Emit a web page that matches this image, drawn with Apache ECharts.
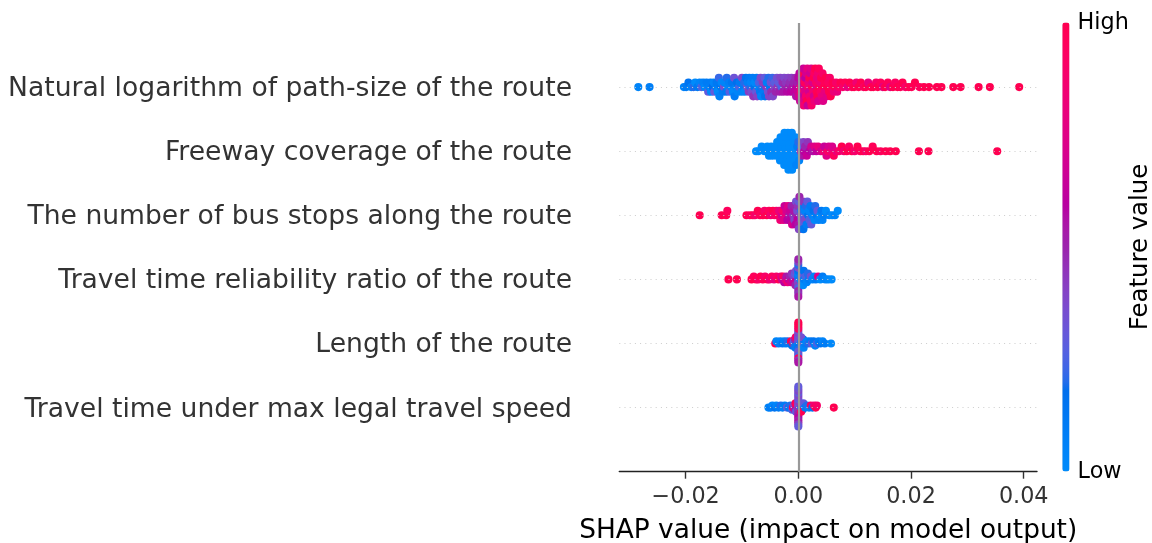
<!DOCTYPE html>
<html>
<head>
<meta charset="utf-8">
<script src="https://cdn.jsdelivr.net/npm/echarts@6/dist/echarts.min.js"></script>
<style>
  html, body { margin: 0; padding: 0; background: #ffffff; }
  #chart { width: 1152px; height: 543px; }
</style>
</head>
<body>
<div id="chart"></div>
<script>
// Features, listed from the bottom row to the top row
const FEATURES = [
  'Travel time under max legal travel speed',
  'Length of the route',
  'Travel time reliability ratio of the route',
  'The number of bus stops along the route',
  'Freeway coverage of the route',
  'Natural logarithm of path-size of the route'
];
const X_TICKS = [-0.02, 0, 0.02, 0.04];
const X_TITLE = 'SHAP value (impact on model output)';
const COLOR_TITLE = 'Feature value';
const COLOR_ENDS = ['High', 'Low'];

// Each point: [SHAP value in thousandths, normalized feature value 0..1]
const SHAP_UNIT = 0.001;

const pathSize = [
  [-28.4,.05],[-26.4,.08],
  [-20.3,.05],[-19.9,.1],[-19.5,.15],[-19.0,.05],[-18.6,.2],[-18.3,0],[-17.9,.12],[-17.5,.05],
  [-17.2,.25],[-16.9,.07],[-16.6,.03],[-16.3,.1],[-16.0,.3],[-15.8,.08],
  [-15.6,.1],[-15.5,.02],[-15.2,.18],[-15.0,.05],[-14.9,.3],[-14.6,.08],[-14.5,.12],[-14.3,0],[-14.1,.22],[-14.0,.06],
  [-13.7,.15],[-13.6,.03],[-13.4,.1],[-13.2,.35],[-13.1,.05],[-12.8,.12],[-12.7,.2],[-12.5,.04],[-12.3,.09],[-12.2,.28],
  [-11.9,.06],[-11.8,.14],[-11.6,.02],[-11.4,.33],[-11.3,.1],[-11.0,.07],[-10.9,.18],[-10.7,.04],[-10.5,.25],[-10.4,.12],
  [-10.1,.05],[-10.0,.38],[-9.8,.1],[-9.6,.2],[-9.5,.03],[-9.3,.15],[-9.1,.3],[-9.0,.08],[-8.8,.42],[-8.7,.12],
  [-8.5,.2],[-8.4,.05],[-8.3,.35],[-8.1,.1],[-8.0,.45],[-7.8,.15],[-7.7,.02],[-7.5,.3],[-7.4,.1],[-7.3,.4],
  [-7.1,.06],[-7.0,.25],[-6.8,.12],[-6.7,.38],[-6.6,.05],[-6.4,.2],[-6.3,.42],[-6.1,.1],[-6.0,.3],[-5.9,.15],
  [-5.7,.45],[-5.6,.08],[-5.4,.35],[-5.3,.2],[-5.2,.4],[-5.0,.12],[-4.9,.32],[-4.8,.48],[-4.6,.22],[-4.5,.38],
  [-4.3,.4],[-4.2,.28],[-4.0,.5],[-3.8,.35],[-3.7,.45],[-3.5,.3],[-3.3,.52],[-3.2,.4],[-3.0,.25],[-2.8,.48],
  [-2.7,.55],[-2.5,.38],[-2.3,.5],[-2.2,.44],[-2.0,.58],[-1.8,.4],[-1.7,.52],[-1.5,.47],[-1.3,.6],[-1.2,.42],
  [-1.0,.55],[-0.8,.5],[-0.7,.62],[-0.5,.48],
  [-0.4,.56],[-0.3,.62],[-0.2,.52],[-0.1,.66],[0.0,.58],[0.1,.7],[0.2,.6],
  [0.3,.65],[0.35,.8],[0.45,.6],[0.5,.9],[0.6,.7],[0.65,.62],[0.75,1],[0.8,.72],[0.9,.66],[0.95,.85],
  [1.05,.68],[1.1,.95],[1.2,.74],[1.25,.6],[1.35,.88],[1.4,.7],[1.5,1],[1.6,.78],[1.65,.64],[1.75,.92],
  [1.8,.8],[1.9,.7],[1.95,1],[2.05,.86],[2.1,.68],[2.2,.95],[2.3,.76],[2.35,.9],[2.45,1],[2.5,.72],
  [2.6,.84],[2.7,1],[2.75,.7],[2.85,.94],[2.9,.82],[3.0,1],[3.1,.75],[3.15,.9],[3.25,.98],[3.3,.8],
  [3.4,1],[3.5,.86],[3.55,.72],[3.65,.95],[3.75,1],[3.85,.84],[3.95,.92],
  [4.05,1],[4.15,.8],[4.3,.9],[4.4,.74],[4.55,1],[4.7,.97],[4.75,.8],[4.9,1],
  [5.05,.76],[5.15,1],[5.3,.94],[5.45,1],[5.6,.9],[5.75,1],[5.9,.96],
  [6.1,1],[6.3,.82],[6.5,1],[6.7,.9],[6.9,.8],[7.2,.92],
  [7.5,1],[7.9,.9],[8.3,.98],[8.7,.8],[9.1,1],[9.5,.94],[9.9,1],[10.3,.85],[10.7,1],
  [11.1,1],[11.6,.92],[12.0,1],[12.4,.8],[12.9,.98],[13.3,1],[13.8,.9],[14.1,1],[14.6,.95],[15.0,.78],
  [15.4,1],[15.9,.96],[16.3,.75],[16.8,1],[17.2,.93],[17.6,1],[18.1,.97],[18.5,1],[19.0,.9],[19.6,1],
  [20.1,.98],[20.7,1],[21.5,.95],[22.3,1],[23.2,1],
  [24.6,1],[25.4,1],[27.5,1],[28.8,1],[32.0,1],[34.0,1],[39.2,1]
];

const freeway = [
  [-7.5,0],[-7.1,0],[-6.5,0],[-6.0,0],[-5.7,0],
  [-5.5,0],[-5.2,0],[-5.0,0],[-4.8,0],[-4.6,0],[-4.4,0],[-4.1,0],[-3.9,0],
  [-3.75,0],[-3.65,0],[-3.55,0],[-3.45,0],[-3.35,0],[-3.25,0],[-3.15,0],[-3.05,0],[-2.95,0],[-2.85,0],[-2.75,0],
  [-2.65,0],[-2.6,0],[-2.5,0],[-2.45,0],[-2.35,0],[-2.3,0],[-2.2,0],[-2.15,0],[-2.05,0],[-2.0,0],
  [-1.9,0],[-1.85,0],[-1.75,0],[-1.7,0],[-1.6,0],[-1.55,0],[-1.45,0],[-1.4,0],[-1.3,0],[-1.25,0],
  [-1.15,0],[-1.1,0],[-1.0,0],[-0.9,0],[-0.8,0],[-0.7,0],
  [-0.6,0],[-0.5,0],[-0.4,.05],[-0.3,0],[-0.2,.1],[-0.1,0],[0.0,.2],[0.15,.05],
  [0.4,.45],[0.55,.3],[0.7,.55],[0.9,.4],[1.05,.6],[1.2,.5],[1.5,.65],[1.7,.45],[2.0,.6],[2.3,.7],
  [2.6,.55],[2.9,.75],[3.2,.62],[3.5,.8],
  [4.0,.7],[4.5,.85],[4.6,.65],[5.0,.75],[5.2,.9],[5.4,.7],[5.9,.85],[6.0,.72],[6.3,.95],[6.8,.8],
  [7.2,.9],[7.7,1],[8.1,.85],[8.6,1],[9.0,.92],[9.5,1],[10.0,.88],[10.5,1],[11.0,.95],[11.5,1],
  [12.0,.9],[12.6,1],[13.2,.97],[13.9,1],[14.6,.95],[15.5,1],[16.3,1],[17.3,1],
  [21.4,1],[23.1,1],[35.3,1]
];

const busStops = [
  [-17.5,1],[-13.6,1],[-12.8,1],[-12.6,.95],
  [-9.2,1],[-8.6,.95],[-8.1,1],[-7.7,.9],[-7.2,1],[-6.8,.95],[-6.3,1],[-6.0,.9],[-5.6,1],[-5.2,.95],
  [-4.9,.85],[-4.5,1],[-4.2,.9],[-3.9,.95],
  [-3.6,.95],[-3.4,.8],[-3.2,.85],
  [-2.95,.7],[-2.8,.9],[-2.6,.75],[-2.45,.65],
  [-2.25,.8],[-2.1,.7],[-1.95,.6],[-1.8,.75],
  [-1.6,.55],[-1.5,.65],[-1.35,.6],[-1.2,.5],[-1.1,.7],
  [-0.9,.45],[-0.8,.55],[-0.7,.4],[-0.6,.5],[-0.5,.6],[-0.4,.35],
  [-0.3,.5],[-0.2,.35],[-0.15,.6],[-0.1,.45],[0.0,.55],[0.05,.3],[0.1,.4],[0.2,.5],
  [0.4,.4],[0.5,.2],[0.55,.35],[0.65,.1],[0.75,.3],[0.8,.45],[0.9,.15],
  [1.05,.25],[1.15,.05],[1.25,.38],[1.35,.2],[1.45,.1],[1.6,.3],
  [1.75,.15],[1.9,.05],[2.0,.25],[2.15,.1],[2.3,.3],
  [2.5,.05],[2.7,.15],[2.9,.02],[3.0,.2],
  [3.2,.1],[3.4,.3],[3.6,.05],
  [3.9,.0],[4.1,.12],[4.3,.05],
  [4.6,.08],[4.9,0],
  [5.5,.05],[6.0,0],[6.5,.05],[7.0,0]
];

const reliability = [
  [-12.4,1],[-10.9,1],
  [-8.3,1],[-7.9,.95],[-7.5,1],[-7.1,.9],[-6.7,1],[-6.3,.95],[-5.9,.9],[-5.5,1],[-5.1,.85],[-4.7,.95],
  [-4.3,.8],[-3.9,.9],[-3.5,1],
  [-3.1,.8],[-2.9,.7],[-2.7,.95],[-2.5,.6],[-2.3,.75],[-2.1,.55],[-1.9,.85],[-1.7,.65],[-1.5,.5],[-1.3,.7],[-1.15,.45],
  [-0.95,.55],[-0.85,.4],[-0.75,.65],[-0.6,.3],[-0.5,.5],[-0.4,.35],
  [0,.2],[0,.1],[0,.3],[0,.05],[0,.4],[0,.15],[0,.25],[0,.35],[0,.5],[0,.2],[0,.45],[0,.4],[0,.55],[0,.5],
  [0.4,.05],[0.5,.2],[0.6,.1],[0.75,.3],[0.85,0],[0.95,.15],
  [1.1,.1],[1.3,.25],[1.5,.05],[1.7,.2],[1.9,.1],[2.2,.35],[2.5,.05],
  [2.8,.05],[3.1,.1],[3.5,.75],[3.9,0],[4.3,.1],[4.8,.05],[5.3,.02],[5.9,0]
];

const routeLength = [
  [-4.1,1],[-3.9,.05],[-3.5,.1],[-3.2,.05],[-2.8,.15],[-2.5,.08],[-2.2,.1],[-1.9,.2],[-1.5,.1],[-1.3,1],[-1.1,.15],
  [-0.9,.95],[-0.8,.3],[-0.7,.2],[-0.6,.5],[-0.5,.1],[-0.45,.9],
  [0,.1],[0,.25],[0,.1],[0,.3],[0,.15],[0,.35],[0,.2],[0,.3],[0,.3],[0,.4],
  [0,.35],[0,.35],[0,.25],[0,.95],[0,.95],[0,.9],[0,.45],[0,1],[0,.55],[0,1],
  [0.45,.2],[0.55,.1],[0.7,.3],[0.85,.15],[0.95,.05],[0.5,.35],
  [1.2,.1],[1.5,.05],[1.8,.2],[2.1,.1],[2.4,.3],[2.7,.15],[3.0,.05],[3.3,.25],[3.6,.1],[3.9,.15],
  [4.3,.05],[4.7,.1],[5.8,.02]
];

const maxSpeedTime = [
  [-5.3,.05],[-4.9,.1],[-4.6,.03],[-4.2,.15],[-3.9,.05],[-3.5,.1],[-3.1,.2],[-2.8,.08],[-2.4,.1],[-2.0,.3],
  [-1.7,.12],[-1.4,.2],[-1.1,.25],
  [-0.95,1],[-0.8,.4],[-0.65,.55],[-0.5,.95],[-0.4,.3],
  [0,.3],[0,.4],[0,.5],[0,.35],[0,.45],[0,.4],[0,.5],[0,.3],[0,.55],[0,.35],
  [0,.6],[0,.4],[0,.5],[0,.3],[0,.55],[0,.4],[0,.4],[0,.35],[0,.3],[0,.3],
  [0.45,.2],[0.6,.9],[0.75,.1],[0.9,.3],[0.5,1],
  [1.2,.1],[1.5,.2],[1.9,.05],[2.2,.95],[2.5,.15],[2.8,.85],[3.1,1],[3.3,.9],
  [6.3,1]
];

// Beeswarm layout: points sharing an x-bin are stacked alternately above and below the row
const ROW_HEIGHT = 0.4;
const BIN = 0.68;
function swarm(points, row) {
  const q = points.map(p => Math.round(p[0] / BIN));
  const order = points.map((p, i) => i).sort((a, b) => q[a] - q[b]);
  const ys = new Array(points.length).fill(0);
  let layer = 0, last = null;
  for (const i of order) {
    if (q[i] !== last) layer = 0;
    ys[i] = Math.ceil(layer / 2) * ((layer % 2) * 2 - 1);
    layer++;
    last = q[i];
  }
  const top = Math.max(...ys.map(y => y + 1));
  const k = 0.9 * ROW_HEIGHT / top;
  return points.map((p, i) => [p[0] * SHAP_UNIT, row + ys[i] * k, p[1]]);
}

// Blue-to-red colour scale interpolated in LCh space
function lab2hex(L, a, b) {
  const fy = (L + 16) / 116, fx = fy + a / 500, fz = fy - b / 200;
  const inv = t => t > 0.2068966 ? t * t * t : (t - 16 / 116) / 7.787;
  const X = 0.95047 * inv(fx), Y = inv(fy), Z = 1.08883 * inv(fz);
  const lin = [
    3.24048134 * X - 1.53715152 * Y - 0.49853633 * Z,
    -0.96925495 * X + 1.87599 * Y + 0.04155593 * Z,
    0.05564664 * X - 0.20404134 * Y + 1.05731107 * Z
  ];
  return '#' + lin.map(v => {
    v = v > 0.0031308 ? 1.055 * Math.pow(v, 1 / 2.4) - 0.055 : 12.92 * v;
    v = Math.min(1, Math.max(0, v));
    return Math.round(v * 255).toString(16).padStart(2, '0');
  }).join('');
}
const RED_BLUE = [];
for (let s = 0; s < 100; s++) {
  const t = s / 99;
  const l = s < 50 ? 54 + (40 - 54) * s / 49 : 40 + (54 - 40) * (s - 50) / 49;
  const c = 70 + 20 * t;
  const h = 4.6588 + (0.35470565 + 2 * Math.PI - 4.6588) * t;
  RED_BLUE.push(lab2hex(l, c * Math.cos(h), c * Math.sin(h)));
}

const FONT = '"DejaVu Sans", "Liberation Sans", sans-serif';
const rows = [maxSpeedTime, routeLength, reliability, busStops, freeway, pathSize];

const series = [{
  type: 'scatter',
  data: [],
  z: 1,
  silent: true,
  markLine: {
    silent: true,
    symbol: 'none',
    animation: false,
    label: { show: false },
    data: [
      { xAxis: 0, lineStyle: { color: '#999999', width: 2.2, type: 'solid' } },
      ...FEATURES.map((f, r) => ({ yAxis: r, lineStyle: { color: '#cccccc', width: 1, type: [1, 4.2] } }))
    ]
  }
}];
rows.forEach((pts, r) => {
  series.push({
    type: 'scatter',
    name: FEATURES[r],
    data: swarm(pts, r),
    symbolSize: 8.1,
    z: 3,
    silent: true,
    itemStyle: { opacity: 1 },
    emphasis: { disabled: true }
  });
});

const fmt = v => (v < 0 ? '\u2212' : '') + Math.abs(v).toFixed(2);

const chart = echarts.init(document.getElementById('chart'), null, { renderer: 'canvas' });
chart.setOption({
  animation: false,
  backgroundColor: '#ffffff',
  grid: { left: 619.3, right: 115, top: 23, bottom: 71.3, containLabel: false },
  xAxis: {
    type: 'value',
    min: -0.03177,
    max: 0.04236,
    axisLine: { onZero: false, lineStyle: { color: '#222222', width: 1.4 } },
    axisTick: { customValues: X_TICKS, length: 7, lineStyle: { color: '#333333', width: 1.4 } },
    axisLabel: { customValues: X_TICKS, formatter: fmt, fontSize: 22.3, color: '#333333', fontFamily: FONT, margin: 14.5 },
    splitLine: { show: false }
  },
  yAxis: {
    type: 'value',
    min: -1,
    max: 6,
    interval: 1,
    axisLine: { show: false, onZero: false },
    axisTick: { show: false },
    splitLine: { show: false },
    axisLabel: {
      formatter: v => FEATURES[v] || '',
      fontSize: 26.6, color: '#333333', fontFamily: FONT, margin: 47.3,
      verticalAlign: 'top', lineHeight: 4
    }
  },
  visualMap: {
    type: 'continuous',
    min: 0,
    max: 1,
    dimension: 2,
    seriesIndex: [1, 2, 3, 4, 5, 6],
    inRange: { color: RED_BLUE },
    calculable: false,
    hoverLink: false,
    orient: 'vertical',
    left: 1062.3,
    top: 22.5,
    itemWidth: 7.2,
    itemHeight: 449,
    padding: 0,
    text: null
  },
  graphic: [
    { type: 'text', x: 1077.6, y: 23.5, silent: true,
      style: { text: COLOR_ENDS[0], font: '22.3px ' + FONT, fill: '#000000', align: 'left', verticalAlign: 'middle' } },
    { type: 'text', x: 1077.6, y: 472.5, silent: true,
      style: { text: COLOR_ENDS[1], font: '22.3px ' + FONT, fill: '#000000', align: 'left', verticalAlign: 'middle' } },
    { type: 'text', x: 1141, y: 247, rotation: Math.PI / 2, silent: true,
      style: { text: COLOR_TITLE, font: '24.4px ' + FONT, fill: '#000000', align: 'center', verticalAlign: 'middle' } },
    { type: 'text', x: 828.2, y: 531, silent: true,
      style: { text: X_TITLE, font: '26.4px ' + FONT, fill: '#000000', align: 'center', verticalAlign: 'middle' } }
  ],
  series: series
});
</script>
</body>
</html>
